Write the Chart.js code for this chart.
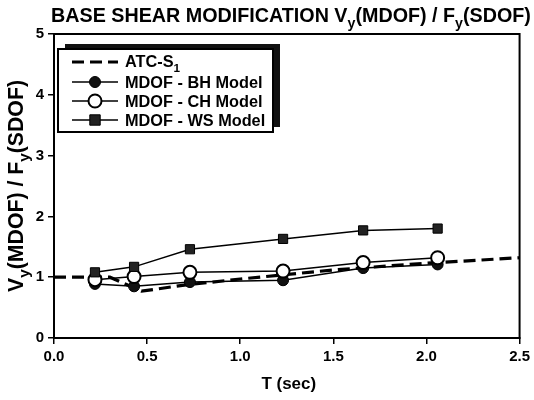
<!DOCTYPE html>
<html>
<head>
<meta charset="utf-8">
<script src="https://cdn.jsdelivr.net/npm/chart.js@4/dist/chart.umd.min.js"></script>
<style>
  html, body { margin: 0; padding: 0; background: #fff; }
  #wrap { width: 534px; height: 400px; }
</style>
</head>
<body>
<div id="wrap"><canvas id="c" width="534" height="400"></canvas></div>
<script>
// ---- data ----
const periods = [0.22, 0.43, 0.73, 1.23, 1.66, 2.06];
const bhModel = [0.89, 0.85, 0.92, 0.95, 1.15, 1.21];
const chModel = [0.96, 1.01, 1.08, 1.10, 1.24, 1.32];
const wsModel = [1.08, 1.17, 1.46, 1.63, 1.77, 1.80];
const atcT = [0.0, 0.30, 0.47, 0.70, 1.00, 1.50, 2.00, 2.50];
const atcS1 = [1.00, 1.00, 0.77, 0.87, 0.97, 1.12, 1.23, 1.32];
const xTicks = [0.0, 0.5, 1.0, 1.5, 2.0, 2.5];
const yTicks = [0, 1, 2, 3, 4, 5];
const legendLabels = ['ATC-S\u2081', 'MDOF - BH Model', 'MDOF - CH Model', 'MDOF - WS Model'];

const FONT = '"Liberation Sans", Arial, Helvetica, sans-serif';
const pts = (xs, ys) => xs.map((x, i) => ({ x: x, y: ys[i] }));

const datasets = [
  { label: legendLabels[0], data: pts(atcT, atcS1), borderColor: '#000', borderWidth: 3.2,
    borderDash: [12, 6], pointRadius: 0, showLine: true, order: 4 },
  { label: legendLabels[1], data: pts(periods, bhModel), borderColor: '#000', borderWidth: 1.5,
    pointStyle: 'circle', pointRadius: 5.5, backgroundColor: '#111', pointBorderColor: '#000',
    pointBorderWidth: 1, showLine: true, order: 3 },
  { label: legendLabels[2], data: pts(periods, chModel), borderColor: '#000', borderWidth: 1.5,
    pointStyle: 'circle', pointRadius: 6.5, backgroundColor: '#fff', pointBorderColor: '#000',
    pointBorderWidth: 2, showLine: true, order: 2 },
  { label: legendLabels[3], data: pts(periods, wsModel), borderColor: '#000', borderWidth: 1.5,
    pointStyle: 'rect', pointRadius: 6.5, backgroundColor: '#222', pointBorderColor: '#000',
    pointBorderWidth: 1, showLine: true, order: 1 }
];

// draw text with subscript pieces: parts = [[text, isSub], ...]
function richWidth(ctx, parts, size) {
  let w = 0;
  parts.forEach(([t, sub]) => {
    ctx.font = 'bold ' + (sub ? size * 0.72 : size) + 'px ' + FONT;
    w += ctx.measureText(t).width;
  });
  return w;
}
function drawRich(ctx, parts, size, x, y) {
  ctx.textAlign = 'left';
  ctx.textBaseline = 'alphabetic';
  parts.forEach(([t, sub]) => {
    ctx.font = 'bold ' + (sub ? size * 0.72 : size) + 'px ' + FONT;
    ctx.fillText(t, x, y + (sub ? size * 0.3 : 0));
    x += ctx.measureText(t).width;
  });
}

const decor = {
  id: 'decor',
  afterDatasetsDraw(chart) {
    const ctx = chart.ctx;
    const a = chart.chartArea;
    ctx.save();
    // frame
    ctx.strokeStyle = '#000';
    ctx.lineWidth = 2;
    ctx.strokeRect(a.left, a.top, a.right - a.left, a.bottom - a.top);
    ctx.fillStyle = '#000';

    // title
    const titleParts = [['BASE SHEAR MODIFICATION V', false], ['y', true], ['(MDOF) / F', false], ['y', true], ['(SDOF)', false]];
    let ts = 18;
    const tw = richWidth(ctx, titleParts, ts);
    ts = ts * 480 / tw;
    drawRich(ctx, titleParts, ts, 51, 22);

    // y axis title (rotated)
    const yParts = [['V', false], ['y', true], ['(MDOF) / F', false], ['y', true], ['(SDOF)', false]];
    let ys = 17;
    const yw = richWidth(ctx, yParts, ys);
    ys = ys * 212 / yw;
    const yw2 = richWidth(ctx, yParts, ys);
    ctx.save();
    ctx.translate(23, (a.top + a.bottom) / 2 + 0);
    ctx.rotate(-Math.PI / 2);
    drawRich(ctx, yParts, ys, -yw2 / 2, 0);
    ctx.restore();

    // x axis title
    ctx.font = 'bold 17px ' + FONT;
    ctx.textAlign = 'center';
    ctx.textBaseline = 'alphabetic';
    ctx.fillText('T (sec)', (a.left + a.right) / 2 + 2, 389);

    // legend box with shadow
    const bx = 58, by = 49, bw = 215, bh = 83;
    ctx.fillStyle = '#111';
    ctx.fillRect(bx + 7, by - 5, bw, bh);
    ctx.fillStyle = '#fff';
    ctx.fillRect(bx, by, bw, bh);
    ctx.strokeStyle = '#000';
    ctx.lineWidth = 2;
    ctx.strokeRect(bx, by, bw, bh);

    const rowY = [62, 82, 101, 120];
    const x0 = 72, x1 = 118, xm = 95;
    const lf = 16.3;
    chart.data.datasets.forEach((ds, i) => {
      const yy = rowY[i];
      ctx.strokeStyle = '#000';
      ctx.lineWidth = ds.borderWidth;
      ctx.setLineDash(ds.borderDash || []);
      ctx.beginPath();
      ctx.moveTo(x0, yy);
      ctx.lineTo(x1, yy);
      ctx.stroke();
      ctx.setLineDash([]);
      if (ds.pointRadius > 0) {
        ctx.fillStyle = ds.backgroundColor;
        ctx.lineWidth = ds.pointBorderWidth;
        ctx.beginPath();
        if (ds.pointStyle === 'rect') {
          const r = ds.pointRadius * 0.8;
          ctx.rect(xm - r, yy - r, 2 * r, 2 * r);
        } else {
          ctx.arc(xm, yy, ds.pointRadius, 0, Math.PI * 2);
        }
        ctx.fill();
        ctx.stroke();
      }
      ctx.fillStyle = '#000';
      if (i === 0) {
        drawRich(ctx, [['ATC-S', false], ['1', true]], lf, 125, yy + 5);
      } else {
        ctx.font = 'bold ' + lf + 'px ' + FONT;
        ctx.textAlign = 'left';
        ctx.textBaseline = 'alphabetic';
        ctx.fillText(ds.label, 125, yy + 6);
      }
    });
    ctx.restore();
  }
};

new Chart(document.getElementById('c'), {
  type: 'scatter',
  data: { datasets: datasets },
  options: {
    responsive: false,
    animation: false,
    layout: { padding: { top: 34, right: 10, left: 0, bottom: 0 } },
    plugins: { legend: { display: false }, tooltip: { enabled: false } },
    scales: {
      x: {
        type: 'linear', min: 0, max: 2.5,
        afterBuildTicks: (s) => { s.ticks = xTicks.map(v => ({ value: v })); },
        afterFit: (s) => { s.height = 62; },
        ticks: { color: '#000', font: { family: FONT, size: 15, weight: 'bold' },
          padding: 4, maxRotation: 0, callback: (v) => Number(v).toFixed(1) },
        grid: { drawOnChartArea: false, tickLength: 6, color: '#000', lineWidth: 1.5 },
        border: { color: '#000', width: 2 }
      },
      y: {
        type: 'linear', min: 0, max: 5,
        afterBuildTicks: (s) => { s.ticks = yTicks.map(v => ({ value: v })); },
        afterFit: (s) => { s.width = 54; },
        ticks: { color: '#000', font: { family: FONT, size: 15, weight: 'bold' }, padding: 4 },
        grid: { drawOnChartArea: false, tickLength: 6, color: '#000', lineWidth: 1.5 },
        border: { color: '#000', width: 2 }
      }
    }
  },
  plugins: [decor]
});
</script>
</body>
</html>
